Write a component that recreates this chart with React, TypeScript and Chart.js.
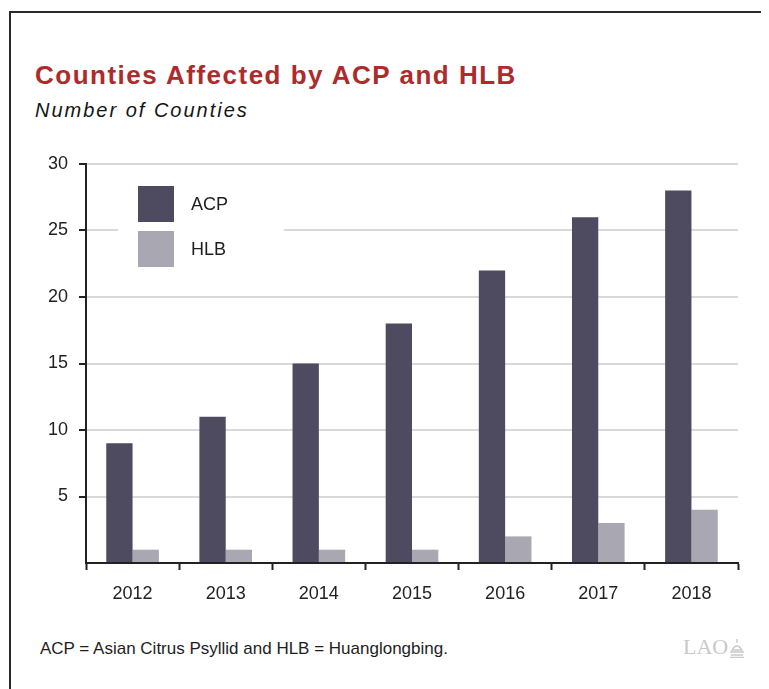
import React, { useEffect, useRef } from 'react';
import { Chart, registerables } from 'chart.js';

Chart.register(...registerables);

// Data
const years = ['2012', '2013', '2014', '2015', '2016', '2017', '2018'];
const acpCounties = [9, 11, 15, 18, 22, 26, 28];
const hlbCounties = [1, 1, 1, 1, 2, 3, 4];
const yTicks = [0, 5, 10, 15, 20, 25, 30];

const ACP_COLOR = '#4e4b61';
const HLB_COLOR = '#a9a7b2';
const FONT = "'Liberation Sans', Arial, Helvetica, sans-serif";

// Legend box drawn inside the plot area, on a white patch over the gridlines
const insideLegend = {
  id: 'insideLegend',
  afterDraw: (chart: any) => {
    const { ctx, chartArea } = chart;
    const x0 = chartArea.left + 52;
    const y0 = chartArea.top + 22;
    ctx.save();
    ctx.fillStyle = '#ffffff';
    ctx.fillRect(chartArea.left + 32, chartArea.top + 14, 166, 98);
    chart.data.datasets.forEach((ds: any, i: number) => {
      const y = y0 + i * 45;
      ctx.fillStyle = ds.backgroundColor;
      ctx.fillRect(x0, y, 36, 36);
      ctx.fillStyle = '#1e1e1e';
      ctx.font = `18px ${FONT}`;
      ctx.textAlign = 'left';
      ctx.textBaseline = 'middle';
      ctx.fillText(ds.label, x0 + 53, y + 19);
    });
    ctx.restore();
  },
};

const CountiesChart: React.FC = () => {
  const canvasRef = useRef<HTMLCanvasElement>(null);
  const chartRef = useRef<any>(null);

  useEffect(() => {
    if (!canvasRef.current) return;
    if (chartRef.current) chartRef.current.destroy();

    chartRef.current = new Chart(canvasRef.current.getContext('2d')!, {
      type: 'bar',
      data: {
        labels: years,
        datasets: [
          { label: 'ACP', data: acpCounties, backgroundColor: ACP_COLOR, borderWidth: 0, barPercentage: 1, categoryPercentage: 0.565 },
          { label: 'HLB', data: hlbCounties, backgroundColor: HLB_COLOR, borderWidth: 0, barPercentage: 1, categoryPercentage: 0.565 },
        ],
      },
      options: {
        responsive: false,
        animation: false,
        layout: { padding: { left: 0, right: 22, top: 24, bottom: 0 } },
        plugins: {
          legend: { display: false },
          title: { display: false },
          tooltip: { enabled: false },
        },
        scales: {
          x: {
            offset: true,
            grid: { offset: true, drawOnChartArea: false, tickLength: 7, tickColor: '#222', tickWidth: 2 },
            border: { color: '#222', width: 2 },
            ticks: { color: '#222', font: { size: 18, family: FONT }, padding: 13 },
            afterFit: (scale: any) => { scale.height = 47; },
          },
          y: {
            min: yTicks[0],
            max: yTicks[yTicks.length - 1],
            afterBuildTicks: (scale: any) => { scale.ticks = yTicks.map(v => ({ value: v })); },
            grid: {
              color: (c: any) => (c.tick && c.tick.value === 0 ? 'rgba(0,0,0,0)' : '#d9d9d9'),
              lineWidth: 2,
              tickLength: 7,
              tickWidth: 2,
              tickColor: (c: any) => (c.tick && c.tick.value === 0 ? 'rgba(0,0,0,0)' : '#222'),
            },
            border: { color: '#222', width: 2 },
            ticks: {
              color: '#222',
              font: { size: 18, family: FONT },
              padding: 11,
              callback: (v: any) => (v === 0 ? '' : String(v)),
            },
            afterFit: (scale: any) => { scale.width = 66; },
          },
        },
      },
      plugins: [insideLegend],
    });

    return () => {
      if (chartRef.current) { chartRef.current.destroy(); chartRef.current = null; }
    };
  }, []);

  return (
    <div style={{ position: 'relative', width: 761, height: 681, overflow: 'hidden', background: '#fff', fontFamily: FONT }}>
      <div style={{ position: 'absolute', left: 1, top: 3, width: 900, height: 900, borderLeft: '2px solid #2a2a2a', borderTop: '2px solid #2a2a2a' }} />
      <div style={{ position: 'absolute', left: 27, top: 54, fontSize: 26, lineHeight: '26px', fontWeight: 'bold', color: '#ad2b2b', letterSpacing: 1.5, whiteSpace: 'nowrap' }}>
        Counties Affected by ACP and HLB
      </div>
      <div style={{ position: 'absolute', left: 27, top: 92, fontSize: 20, lineHeight: '20px', fontStyle: 'italic', color: '#151515', letterSpacing: 2, whiteSpace: 'nowrap' }}>
        Number of Counties
      </div>
      <canvas ref={canvasRef} width={740} height={470} style={{ position: 'absolute', left: 12, top: 132, width: 740, height: 470 }} />
      <div style={{ position: 'absolute', left: 32, top: 632, fontSize: 17, lineHeight: '17px', color: '#1e1e1e', whiteSpace: 'nowrap' }}>
        ACP = Asian Citrus Psyllid and HLB = Huanglongbing.
      </div>
      <div style={{ position: 'absolute', left: 675, top: 628, fontSize: 22, lineHeight: '22px', fontFamily: "'Liberation Serif', 'DejaVu Serif', serif", color: '#c9c9c9', whiteSpace: 'nowrap', display: 'flex', alignItems: 'flex-end' }}>
        LAO
        <svg width="16" height="20" viewBox="0 0 16 20" style={{ marginLeft: 1 }}>
          <path d="M8 1 L8 5 M3 12 Q8 4 13 12 Z M1 14 H15 M2 17 H14 M1 19.5 H15" stroke="#c9c9c9" strokeWidth="1.4" fill="none" />
        </svg>
      </div>
    </div>
  );
};

export default function App() {
  return <CountiesChart />;
}
